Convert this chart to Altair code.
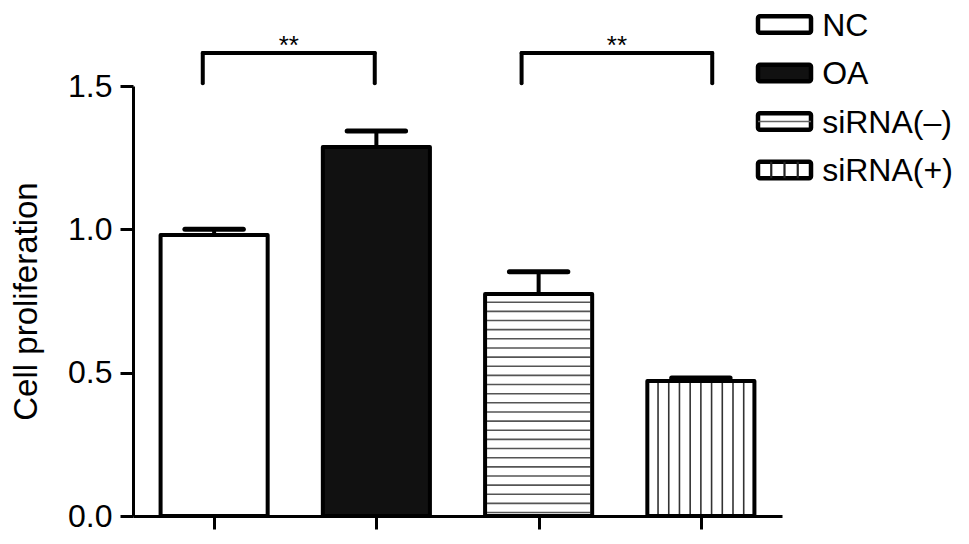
import altair as alt
import pandas as pd

# ---- data ----
groups = ["NC", "OA", "siRNA(–)", "siRNA(+)"]
positions = [1, 2, 3, 4]
means = [0.98, 1.287, 0.774, 0.471]
errors = [0.02, 0.056, 0.078, 0.01]
fills = ["#ffffff", "#111111", "#ffffff", "#ffffff"]

sig_left = [0.93, 2.895]
sig_right = [1.99, 4.07]
sig_top = [1.615, 1.615]
sig_base = [1.51, 1.51]
sig_label = ["**", "**"]

y_ticks = [0.0, 0.5, 1.0, 1.5]

# ---- layout / style constants ----
FONT = "Liberation Sans"
W, H = 649, 430
HALF = 0.33      # half bar width (x units)
CAP = 0.18       # half error-cap width
STROKE = 4

df = pd.DataFrame({"group": groups, "pos": positions, "mean": means, "err": errors})
df["x0"] = df["pos"] - HALF
df["x1"] = df["pos"] + HALF
df["top"] = df["mean"] + df["err"]
df["c0"] = df["pos"] - CAP
df["c1"] = df["pos"] + CAP
df["zero"] = 0.0

# stripe patterns (pattern geometry, not data)
inset = 0.012
hrows = []
r = df[df["group"] == "siRNA(–)"].iloc[0]
k = 0
while 0.012 + k * 0.0319 < r["mean"] - 0.02:
    hrows.append({"y": 0.012 + k * 0.0319, "xa": r["x0"] + inset, "xb": r["x1"] - inset})
    k += 1
hdf = pd.DataFrame(hrows)

vrows = []
r = df[df["group"] == "siRNA(+)"].iloc[0]
for k in range(1, 10):
    vrows.append({"x": r["x0"] + k * (2 * HALF / 10), "ya": 0.0, "yb": r["mean"]})
vdf = pd.DataFrame(vrows)

sig = pd.DataFrame({"l": sig_left, "r": sig_right, "t": sig_top, "b": sig_base,
                    "label": sig_label})
sig["mid"] = (sig["l"] + sig["r"]) / 2
sig["ty"] = sig["t"] - 0.005

xs = alt.Scale(domain=[0.5, 4.5], nice=False, zero=False, padding=0)
ys = alt.Scale(domain=[0, 1.5], nice=False, padding=0)
xax = alt.Axis(values=positions, labels=False, title=None, grid=False,
               tickSize=13, tickWidth=3, domainWidth=3, domainColor="black", tickColor="black")
yax = alt.Axis(values=y_ticks, format=".1f", title="Cell proliferation", grid=False,
               tickSize=13, tickWidth=3, domainWidth=3, domainColor="black", tickColor="black",
               labelFont=FONT, labelFontSize=32, labelColor="black", labelPadding=8,
               titleFont=FONT, titleFontSize=33, titleFontWeight="normal", titleColor="black",
               titlePadding=24)
fill_scale = alt.Scale(domain=groups, range=fills)

base = alt.Chart(df)

bar_fill = base.mark_rect(strokeWidth=0).encode(
    x=alt.X("x0:Q", scale=xs, axis=xax), x2="x1:Q",
    y=alt.Y("mean:Q", scale=ys, axis=yax), y2="zero:Q",
    fill=alt.Fill("group:N", scale=fill_scale, legend=None),
)

hstripes = alt.Chart(hdf).mark_rule(color="#555555", strokeWidth=1.6).encode(
    x=alt.X("xa:Q", scale=xs, axis=xax), x2="xb:Q",
    y=alt.Y("y:Q", scale=ys, axis=yax),
)
vstripes = alt.Chart(vdf).mark_rule(color="#333333", strokeWidth=1.6).encode(
    x=alt.X("x:Q", scale=xs, axis=xax),
    y=alt.Y("ya:Q", scale=ys, axis=yax), y2="yb:Q",
)

bar_outline = base.mark_rect(fill=None, fillOpacity=0, stroke="black", strokeWidth=STROKE,
                             strokeJoin="round").encode(
    x=alt.X("x0:Q", scale=xs, axis=xax), x2="x1:Q",
    y=alt.Y("mean:Q", scale=ys, axis=yax), y2="zero:Q",
)

err_stem = base.mark_rule(color="black", strokeWidth=STROKE).encode(
    x=alt.X("pos:Q", scale=xs, axis=xax),
    y=alt.Y("mean:Q", scale=ys, axis=yax), y2="top:Q",
)
err_cap = base.mark_rule(color="black", strokeWidth=5, strokeCap="round").encode(
    x=alt.X("c0:Q", scale=xs, axis=xax), x2="c1:Q",
    y=alt.Y("top:Q", scale=ys, axis=yax),
)

sig_base_chart = alt.Chart(sig)
sig_h = sig_base_chart.mark_rule(color="black", strokeWidth=STROKE, strokeCap="round").encode(
    x=alt.X("l:Q", scale=xs, axis=xax), x2="r:Q",
    y=alt.Y("t:Q", scale=ys, axis=yax),
)
sig_vl = sig_base_chart.mark_rule(color="black", strokeWidth=STROKE, strokeCap="round").encode(
    x=alt.X("l:Q", scale=xs, axis=xax),
    y=alt.Y("b:Q", scale=ys, axis=yax), y2="t:Q",
)
sig_vr = sig_base_chart.mark_rule(color="black", strokeWidth=STROKE, strokeCap="round").encode(
    x=alt.X("r:Q", scale=xs, axis=xax),
    y=alt.Y("b:Q", scale=ys, axis=yax), y2="t:Q",
)
sig_txt = sig_base_chart.mark_text(font=FONT, fontSize=26, color="black", baseline="alphabetic",
                                   align="center").encode(
    x=alt.X("mid:Q", scale=xs, axis=xax),
    y=alt.Y("ty:Q", scale=ys, axis=yax),
    text="label:N",
)

main = alt.layer(bar_fill, hstripes, vstripes, bar_outline, err_stem, err_cap,
                 sig_h, sig_vl, sig_vr, sig_txt)

# ---- custom legend drawn in its own coordinate space ----
leg = pd.DataFrame({"group": groups, "row": list(range(len(groups)))})
leg["x0"] = 0.0
leg["x1"] = 1.0
leg["ya"] = leg["row"] - 0.17
leg["yb"] = leg["row"] + 0.17
leg["tx"] = 1.21

ROW_PX = 48.5
ROW0_PX = -61.5   # first legend row relative to plot top
lxs = alt.Scale(domain=[-625 / 53, (W - 625) / 53], nice=False, zero=False, padding=0)
lys = alt.Scale(domain=[-ROW0_PX / ROW_PX, (H - ROW0_PX) / ROW_PX], nice=False, zero=False,
                reverse=True, padding=0)

leg_swatch = alt.Chart(leg).mark_rect(stroke="black", strokeWidth=4.5, strokeJoin="round",
                                      cornerRadius=2).encode(
    x=alt.X("x0:Q", scale=lxs, axis=None), x2="x1:Q",
    y=alt.Y("ya:Q", scale=lys, axis=None), y2="yb:Q",
    fill=alt.Fill("group:N", scale=fill_scale, legend=None),
)
lh = leg[leg["group"] == "siRNA(–)"].copy()
leg_h = alt.Chart(lh).mark_rule(color="#666666", strokeWidth=1.6).encode(
    x=alt.X("x0:Q", scale=lxs, axis=None), x2="x1:Q",
    y=alt.Y("row:Q", scale=lys, axis=None),
)
lv_rows = []
rv = leg[leg["group"] == "siRNA(+)"].iloc[0]
for f in [0.25, 0.5, 0.75]:
    lv_rows.append({"x": f, "ya": rv["ya"], "yb": rv["yb"]})
leg_v = alt.Chart(pd.DataFrame(lv_rows)).mark_rule(color="#222222", strokeWidth=2.2).encode(
    x=alt.X("x:Q", scale=lxs, axis=None),
    y=alt.Y("ya:Q", scale=lys, axis=None), y2="yb:Q",
)
leg_text = alt.Chart(leg).mark_text(font=FONT, fontSize=32, color="black", align="left",
                                    baseline="middle", dy=1).encode(
    x=alt.X("tx:Q", scale=lxs, axis=None),
    y=alt.Y("row:Q", scale=lys, axis=None),
    text="group:N",
)
legend = alt.layer(leg_swatch, leg_h, leg_v, leg_text)

chart = alt.layer(main, legend).resolve_scale(x="independent", y="independent", fill="shared").properties(
    width=W, height=H, background="white",
    padding={"left": 2, "top": 1, "right": 5, "bottom": 5},
).configure_view(stroke=None)

chart.save("out.html", embed_options={"renderer": "svg", "actions": False})
